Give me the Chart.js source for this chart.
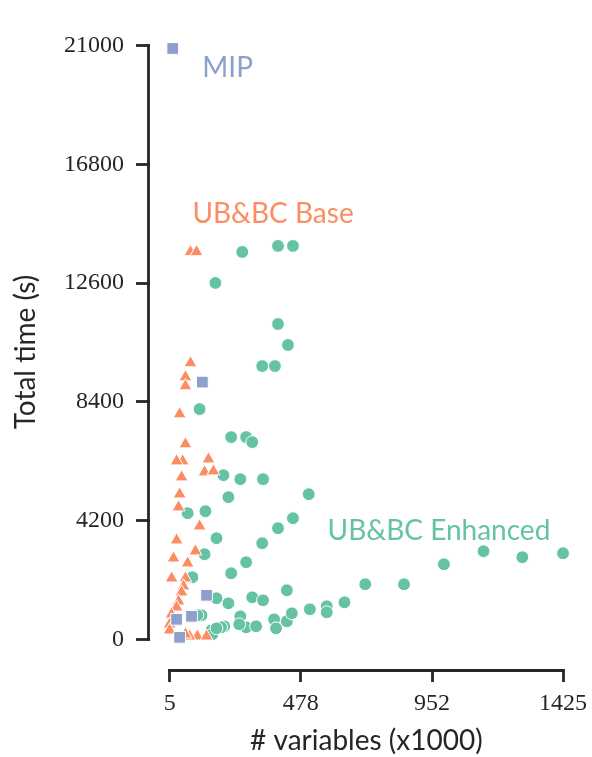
<!DOCTYPE html>
<html>
<head>
<meta charset="utf-8">
<script src="https://cdn.jsdelivr.net/npm/chart.js@4"></script>
<style>
  body { margin: 0; background: #fff; }
  #wrap { width: 592px; height: 757px; }
</style>
</head>
<body>
<div id="wrap"><canvas id="myChart" width="592" height="757"></canvas></div>
<script>
// data (x in thousands of variables, y in seconds)
const xTicks = [5, 478, 952, 1425];
const yTicks = [0, 4200, 8400, 12600, 16800, 21000];

const mipX = [16, 123, 138, 84, 30, 41];
const mipY = [20900, 9100, 1558, 814, 708, 71];

const baseX = [80, 102, 80, 62, 62, 41, 62, 52, 30, 145, 48, 131, 163, 41, 37, 113, 30, 98, 19, 70, 12, 62, 55, 48, 37, 30, 12, 5, 5, 105, 138, 77, 62];
const baseY = [13704, 13704, 9773, 9277, 8959, 7967, 6905, 6303, 6303, 6374, 5736, 5913, 5949, 5134, 4674, 4001, 3506, 3116, 2868, 2691, 2160, 2160, 1877, 1664, 1346, 1133, 885, 531, 319, 106, 106, 106, 177];

const enhX = [267, 396, 450, 170, 396, 432, 339, 385, 113, 227, 281, 303, 199, 260, 342, 217, 507, 70, 134, 450, 396, 174, 339, 131, 281, 227, 87, 428, 174, 217, 303, 342, 120, 260, 202, 281, 317, 382, 389, 428, 446, 511, 572, 572, 636, 711, 851, 995, 1138, 1278, 1425, 156, 191, 105, 159, 174, 256];
const enhY = [13704, 13916, 13916, 12606, 11154, 10411, 9667, 9667, 8144, 7153, 7153, 6976, 5807, 5666, 5666, 5028, 5134, 4462, 4532, 4285, 3931, 3576, 3399, 3010, 2727, 2337, 2195, 1735, 1452, 1275, 1487, 1381, 850, 814, 460, 425, 460, 708, 390, 637, 921, 1062, 1169, 956, 1310, 1948, 1948, 2656, 3116, 2904, 3045, 319, 425, 850, 177, 390, 531];

const seriesNames = ["MIP", "UB&BC Base", "UB&BC Enhanced"];
const seriesColors = ["#8da0cb", "#fc8d62", "#66c2a5"];
// where each series name is written (data coords, left / baseline)
const labelX = [123, 87, 575];
const labelY = [19900, 14731, 3506];

const ink = "#262626";
const sansFont = "28px Lato";

function toPoints(xs, ys) {
  return xs.map((v, i) => ({ x: v, y: ys[i] }));
}

// trimmed spines, axis titles and series names
const decor = {
  id: "decor",
  afterDraw(chart) {
    const { ctx, chartArea } = chart;
    const x = chart.scales.x;
    const y = chart.scales.y;
    ctx.save();
    ctx.strokeStyle = ink;
    ctx.lineWidth = 2.8;
    const sx = chartArea.left - 1.5;
    const sy = chartArea.bottom + 1.5;
    ctx.beginPath();
    ctx.moveTo(sx, y.getPixelForValue(yTicks[yTicks.length - 1]) - 1.4);
    ctx.lineTo(sx, y.getPixelForValue(yTicks[0]) + 1.4);
    ctx.stroke();
    ctx.beginPath();
    ctx.moveTo(x.getPixelForValue(xTicks[0]) - 1.4, sy);
    ctx.lineTo(x.getPixelForValue(xTicks[xTicks.length - 1]) + 1.4, sy);
    ctx.stroke();

    ctx.fillStyle = ink;
    ctx.font = sansFont;
    ctx.textAlign = "center";
    ctx.textBaseline = "alphabetic";
    ctx.fillText("# variables (x1000)", (chartArea.left + chartArea.right) / 2, 750);
    ctx.save();
    ctx.translate(35, 352);
    ctx.rotate(-Math.PI / 2);
    ctx.fillText("Total time (s)", 0, 0);
    ctx.restore();

    ctx.textAlign = "left";
    seriesNames.forEach((name, i) => {
      ctx.fillStyle = seriesColors[i];
      ctx.fillText(name, x.getPixelForValue(labelX[i]), y.getPixelForValue(labelY[i]));
    });
    ctx.restore();
  },
};

const ctx = document.getElementById("myChart");
new Chart(ctx, {
  type: "scatter",
  data: {
    datasets: [
      {
        label: seriesNames[0],
        data: toPoints(mipX, mipY),
        backgroundColor: seriesColors[0],
        borderColor: "#fff",
        borderWidth: 1,
        pointStyle: "rect",
        pointRadius: 8.3,
      },
      {
        label: seriesNames[1],
        data: toPoints(baseX, baseY),
        backgroundColor: seriesColors[1],
        borderColor: "#fff",
        borderWidth: 1,
        pointStyle: "triangle",
        pointRadius: 7.5,
      },
      {
        label: seriesNames[2],
        data: toPoints(enhX, enhY),
        backgroundColor: seriesColors[2],
        borderColor: "#fff",
        borderWidth: 1,
        pointStyle: "circle",
        pointRadius: 6.4,
      },
    ],
  },
  options: {
    responsive: false,
    devicePixelRatio: 1,
    animation: false,
    layout: { padding: { top: 16, right: 6, left: 0, bottom: 0 } },
    plugins: {
      legend: { display: false },
      tooltip: { enabled: false },
    },
    scales: {
      x: {
        type: "linear",
        min: -66,
        max: 1496,
        border: { display: false },
        grid: {
          drawOnChartArea: false,
          drawTicks: true,
          tickLength: 13,
          tickWidth: 2.8,
          tickColor: ink,
        },
        afterBuildTicks: (scale) => {
          scale.ticks = xTicks.map((v) => ({ value: v }));
        },
        afterFit: (scale) => {
          scale.height = 88;
          scale.paddingLeft = 0;
          scale.paddingRight = 0;
        },
        ticks: {
          autoSkip: false,
          maxRotation: 0,
          padding: 7,
          color: ink,
          font: { family: "'Liberation Serif', serif", size: 24 },
          callback: (v) => String(v),
        },
      },
      y: {
        type: "linear",
        min: -1050,
        max: 22050,
        border: { display: false },
        grid: {
          drawOnChartArea: false,
          drawTicks: true,
          tickLength: 14,
          tickWidth: 2.8,
          tickColor: ink,
        },
        afterBuildTicks: (scale) => {
          scale.ticks = yTicks.map((v) => ({ value: v }));
        },
        afterFit: (scale) => {
          scale.width = 150;
          scale.paddingTop = 0;
          scale.paddingBottom = 0;
        },
        ticks: {
          autoSkip: false,
          padding: 12,
          color: ink,
          font: { family: "'Liberation Serif', serif", size: 24 },
          callback: (v) => String(v),
        },
      },
    },
  },
  plugins: [decor],
});
</script>
</body>
</html>
